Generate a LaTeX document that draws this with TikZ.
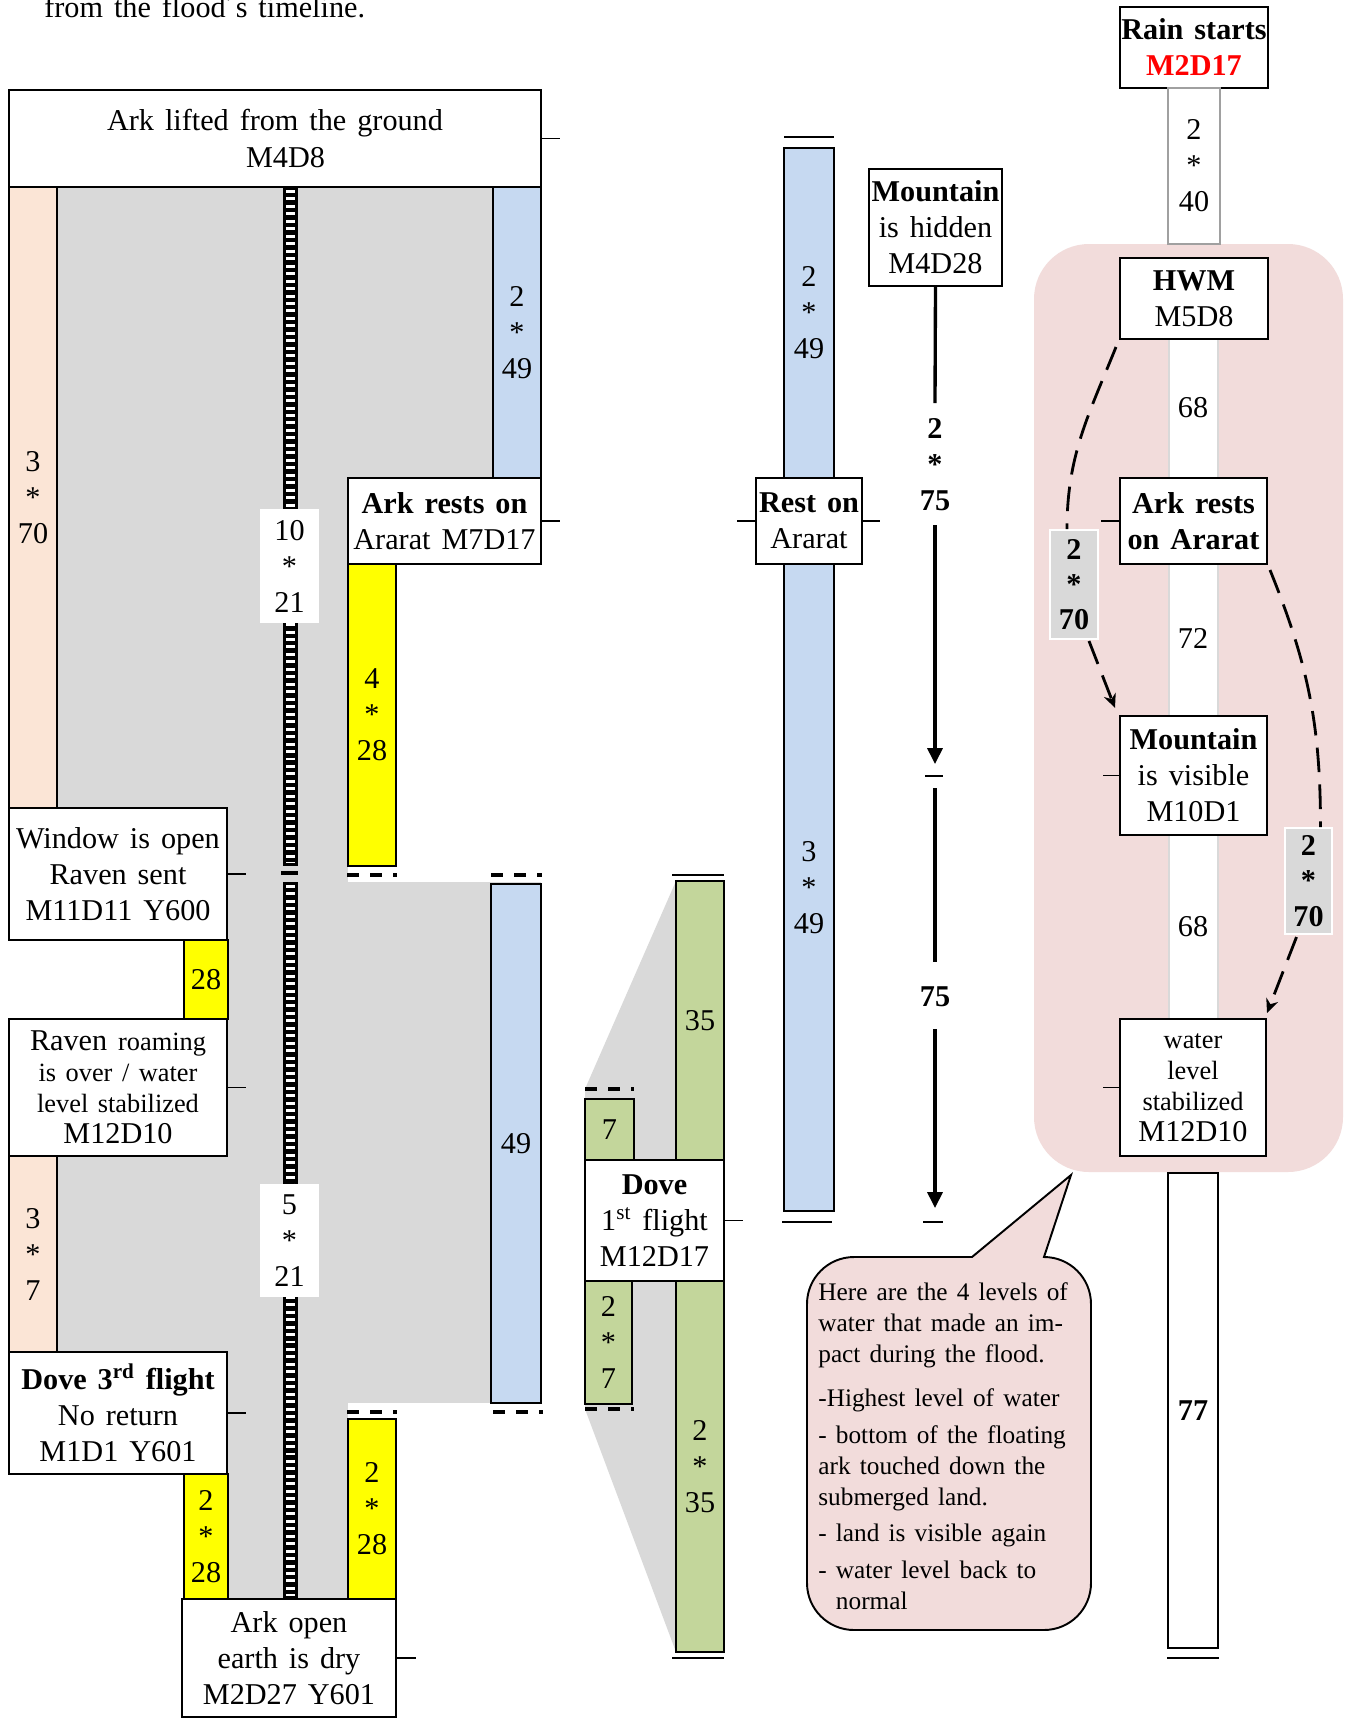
\documentclass[tikz,border=0pt]{standalone}
\usepackage{fontspec}
\setmainfont[WordSpace=1.45]{Liberation Serif}
\usetikzlibrary{arrows.meta}
\definecolor{peach}{HTML}{FBE5D6}
\definecolor{lgrey}{HTML}{D9D9D9}
\definecolor{lblue}{HTML}{C6D9F1}
\definecolor{lgreen}{HTML}{C3D69B}
\definecolor{lpink}{HTML}{F2DCDB}
\definecolor{ylw}{HTML}{FFFF00}
\definecolor{rred}{HTML}{FF0000}
\definecolor{bgrey}{HTML}{A0A0A0}
\newcommand\fsz[2]{\fontsize{#1}{#2}\selectfont}
\newcommand\bx[7][]{\node[bxs,#1,minimum width={(#5-#3)*0.02cm},minimum height={(#6-#4)*0.02cm}] (#2) at ({(#3+#5)/2},{(#4+#6)/2}) {#7};}
\newcommand\myladder[2]{\fill[black] (283,#1) rectangle (298,#2); \draw[white,line width=5.5pt,dash pattern=on 1.7pt off 2.55pt] (290.5,#1+3) -- (290.5,#2-3);}
\tikzset{
 bxs/.style={draw,line width=1.1pt,fill=white,inner sep=0pt,outer sep=0pt,align=center,font=\fsz{17.2}{20.5}},
 tk/.style={line width=1.1pt},
 bl/.style={line width=0.9pt},
 dl/.style={line width=2pt,dash pattern=on 7pt off 6.2pt},
 dc/.style={line width=1.6pt,dash pattern=on 14pt off 7pt},
 arl/.style={line width=1.9pt},
 lbl/.style={font=\fsz{17.2}{20.5},inner sep=0pt,align=center},
}
\begin{document}
\begin{tikzpicture}[x=0.02cm,y=-0.02cm]
\useasboundingbox (0,0) rectangle (1347,1718);
\fill[white] (0,0) rectangle (1347,1718);

% header
\node[anchor=base west,inner sep=0pt,font=\fsz{17.2}{20}] (hdr) at (44,17) {from the flood´s timeline.};

% grey backgrounds
\fill[lgrey] (57,187) rectangle (541,1599);
\fill[white] (348,564) rectangle (545,882);
\fill[white] (348,1403) rectangle (545,1599);
\fill[white] (57,940) rectangle (184,1019);
\fill[white] (57,1474) rectangle (184,1599);
\fill[lgrey] (676,881) -- (585,1089) -- (585,1160) -- (676,1160) -- cycle;
\fill[lgrey] (585,1281) -- (676,1281) -- (676,1652) -- (585,1409) -- cycle;

% pink region
\fill[lpink, rounded corners=1.1cm] (1034,244) rectangle (1343,1172);
\fill[white] (1169,339) rectangle (1218,1019);
\draw[lgrey,line width=1.2pt] (1169,339) -- (1169,1019) (1218,339) -- (1218,1019);

% ladders
\myladder{187}{866}
\myladder{882}{1599}
\draw[line width=2pt] (281,873) -- (298,873);

% left column boxes
\bx{ark}{9}{90}{541}{187}{Ark lifted from the ground\\\hspace*{0.7em}M4D8}
\bx[fill=peach]{p1}{9}{187}{57}{808}{3\\*\\70}
\bx[fill=lblue]{bl1}{493}{187}{541}{478}{2\\*\\49}
\bx{ar1}{348}{478}{541}{564}{\textbf{Ark rests on}\\Ararat M7D17}
\bx[fill=ylw]{y1}{348}{564}{396}{866}{4\\*\\28}
\bx[draw=none]{w1}{260}{509}{319}{623}{10\\*\\21}
\bx{win}{9}{808}{227}{940}{Window is open\\Raven sent\\M11D11 Y600}
\bx[fill=ylw]{y28}{184}{940}{228}{1019}{28}
\bx[font=\fsz{17.2}{17.6}]{raven}{9}{1019}{227}{1156}{Raven {\fsz{15}{17.6}roaming}\\{\fsz{15}{17.6}is over / water}\\{\fsz{15}{17.6}level stabilized}\\M12D10}
\bx[fill=lblue]{bl2}{491}{884}{541}{1403}{49}
\bx[fill=peach]{p2}{9}{1156}{57}{1352}{3\\*\\7}
\bx[draw=none]{w2}{260}{1184}{319}{1297}{5\\*\\21}
\bx{dove3}{9}{1352}{227}{1474}{\textbf{Dove 3\textsuperscript{rd} flight}\\No return\\M1D1 Y601}
\bx[fill=ylw]{y2l}{184}{1474}{228}{1599}{2\\*\\28}
\bx[fill=ylw]{y2r}{348}{1419}{396}{1599}{2\\*\\28}
\bx{open}{182}{1599}{396}{1717}{Ark open\\earth is dry\\M2D27 Y601}

% green column
\bx[fill=lgreen]{g35}{676}{881}{724}{1160}{35}
\bx[fill=lgreen]{g7}{585}{1099}{634}{1160}{7}
\bx{dove}{585}{1160}{724}{1281}{\textbf{Dove}\\1\textsuperscript{st} flight\\M12D17}
\bx[fill=lgreen]{g27}{585}{1281}{632}{1404}{2\\*\\7}
\bx[fill=lgreen]{g235}{676}{1281}{724}{1652}{2\\*\\35}

% blue column
\bx[fill=lblue]{bc1}{784}{148}{834}{478}{2\\*\\49}
\bx{rest}{756}{478}{862}{564}{\textbf{Rest on}\\Ararat}
\bx[fill=lblue]{bc2}{784}{564}{834}{1211}{3\\*\\49}

% 75 column
\bx{mh}{869}{169}{1002}{286}{\textbf{Mountain}\\is hidden\\M4D28}
\coordinate (m1) at (935,403);
\node[lbl,font=\fsz{17.2}{20.5}\bfseries] (n275) at (935,465) {2\\*\\75};
\coordinate (m2) at (935,525);
\coordinate (m3) at (935,764);
\coordinate (m4a) at (925,776);
\coordinate (m4b) at (943,776);
\coordinate (m5) at (935,788);
\coordinate (m6) at (935,962);
\node[lbl,font=\fsz{17.2}{20.5}\bfseries] (n75) at (935,997) {75};
\coordinate (m7) at (935,1029);
\coordinate (m8) at (935,1208);
\coordinate (m9a) at (923,1222);
\coordinate (m9b) at (943,1222);
\draw[arl] (mh.south) -- (m1);
\draw[arl,-{Triangle[length=9pt,width=8.5pt]}] (m2) -- (m3);
\draw[tk] (m4a) -- (m4b);
\draw[arl] (m5) -- (m6);
\draw[arl,-{Triangle[length=9pt,width=8.5pt]}] (m7) -- (m8);
\draw[tk] (m9a) -- (m9b);

% right column
\bx{rain}{1120}{7}{1268}{88}{\textbf{Rain starts}\\\textbf{\color{rred}M2D17}}
\bx[draw=bgrey]{b40}{1168}{88}{1220}{244}{2\\*\\40}
\bx{hwm}{1120}{258}{1268}{339}{\textbf{HWM}\\M5D8}
\node[lbl] (l68a) at (1193,408) {68};
\bx{ar2}{1120}{478}{1267}{564}{\textbf{Ark rests}\\\textbf{on Ararat}}
\node[lbl] (l72) at (1193,638) {72};
\bx{mv}{1120}{716}{1267}{835}{\textbf{Mountain}\\is visible\\M10D1}
\node[lbl] (l68b) at (1193,927) {68};
\bx[font=\fsz{17.2}{17.6}]{wl}{1120}{1019}{1266}{1156}{{\fsz{15}{17.6}water}\\{\fsz{15}{17.6}level}\\{\fsz{15}{17.6}stabilized}\\M12D10}
\bx{b77}{1168}{1173}{1218}{1648}{\textbf{77}}

% dashed connectors with labels
\bx[fill=lgrey,draw=white,line width=1.6pt,font=\fsz{17.2}{20}\bfseries]{lbla}{1050}{530}{1098}{639}{2\\*\\70}
\bx[fill=lgrey,draw=white,line width=1.6pt,font=\fsz{17.2}{20}\bfseries]{lblb}{1285}{828}{1332}{934}{2\\*\\70}
\draw[dc] ([shift={(-4,8)}]hwm.south west) to[out=-112,in=90] ([shift={(-7,-1)}]lbla.north);
\draw[dc,-{Stealth[length=8pt,width=7pt]}] ([shift={(15,2)}]lbla.south) -- ([shift={(-5,-8)}]mv.north west);
\draw[dc] ([shift={(3,6)}]ar2.south east) to[out=-68,in=90] ([shift={(12,-1)}]lblb.north);
\draw[dc,-{Stealth[length=8pt,width=7pt]}] ([shift={(-12,3)}]lblb.south) -- ([shift={(1,-6)}]wl.north east);

% ticks
\draw[tk] (ark.east) -- ++(19,0);
\draw[tk] (ar1.east) -- ++(19,0);
\draw[tk] (win.east) -- ++(19,0);
\draw[tk] (raven.east) -- ++(19,0);
\draw[tk] (dove3.east) -- ++(19,0);
\draw[tk] (open.east) -- ++(20,0);
\draw[tk] (dove.east) -- ++(19,0);
\draw[tk] (rest.west) -- ++(-19,0);
\draw[tk] (rest.east) -- ++(18,0);
\draw[tk] (ar2.west) -- ++(-19,0);
\draw[tk] (mv.west) -- ++(-17,0);
\draw[tk] (wl.west) -- ++(-17,0);

% boundary lines
\draw[bl] (784,137) -- (834,137);
\draw[bl] (782,1222) -- (832,1222);
\draw[bl] (672,875) -- (724,875);
\draw[bl] (672,1658) -- (724,1658);
\draw[bl] (1167,1658) -- (1219,1658);
\draw[dl] (491,875) -- (542,875);
\draw[dl] (347,875) -- (397,875);
\draw[dl] (585,1089) -- (634,1089);
\draw[dl] (585,1409) -- (634,1409);
\draw[dl] (493,1412) -- (543,1412);
\draw[dl] (347,1412) -- (397,1412);

% speech bubble
\draw[line width=1.1pt,fill=lpink] (1044,1257) arc[start angle=90,end angle=0,radius=0.94cm] -- (1091,1583) arc[start angle=0,end angle=-90,radius=0.94cm] -- (854,1630) arc[start angle=-90,end angle=-180,radius=0.94cm] -- (807,1304) arc[start angle=180,end angle=90,radius=0.94cm] -- (972,1257) -- (1071,1175) -- cycle;
\node[anchor=north west,align=left,inner sep=0pt,font=\fsz{14.4}{17.6}] (note) at (818,1282) {Here are the 4 levels of\\water that made an im-\\pact during the flood.\\[7.9pt]-Highest level of water\\[3.4pt]- bottom of the floating\\ark touched down the\\submerged land.\\[2.8pt]- land is visible again\\[3.4pt]- water level back to\\\hphantom{- }normal};
\end{tikzpicture}
\end{document}
